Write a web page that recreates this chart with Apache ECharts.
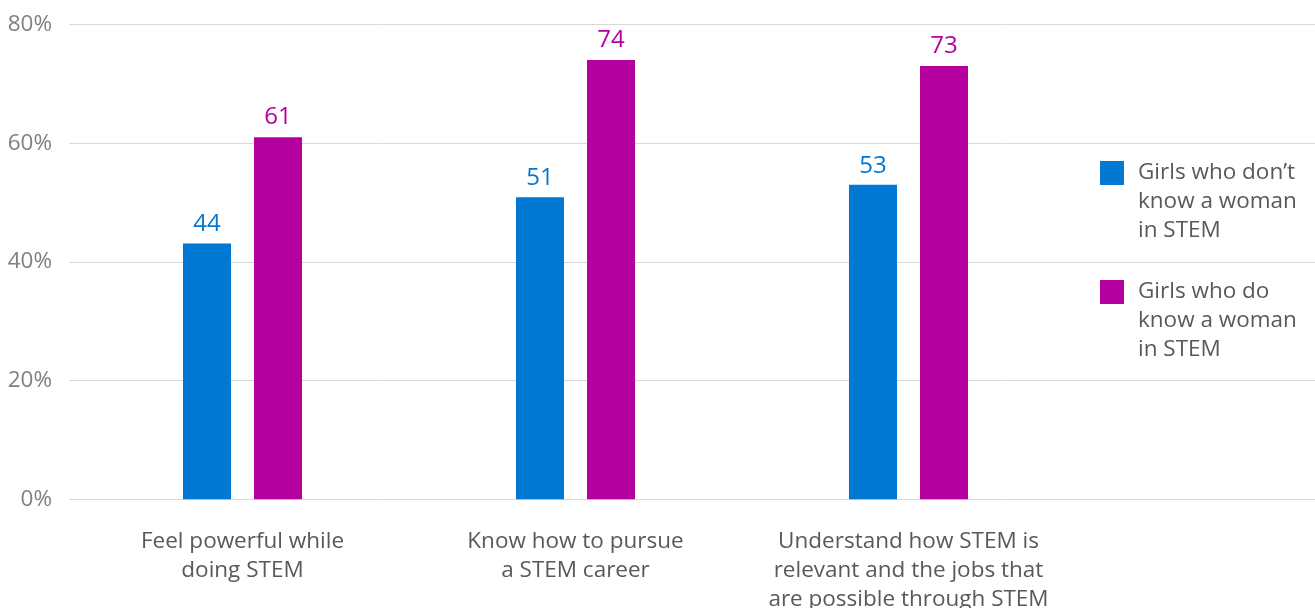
<!DOCTYPE html>
<html><head><meta charset="utf-8">
<script src="https://cdn.jsdelivr.net/npm/echarts@6/dist/echarts.min.js"></script>
<style>html,body{margin:0;padding:0;background:#fff}#c{width:1315px;height:608px}</style>
</head><body><div id="c"></div>
<script>
const categories = ['Feel powerful while\ndoing STEM', 'Know how to pursue\na STEM career', 'Understand how STEM is\nrelevant and the jobs that\nare possible through STEM'];
const seriesNames = ['Girls who don\u2019t\nknow a woman\nin STEM', 'Girls who do\nknow a woman\nin STEM'];
const dontKnow = [43.1, 50.9, 53];
const doKnow = [61, 74, 73];
const dontKnowLabels = ['44', '51', '53'];
const doKnowLabels = ['61', '74', '73'];
const yTicks = [0, 20, 40, 60, 80];

const FONT = '"Open Sans", "Noto Sans", sans-serif';
const chart = echarts.init(document.getElementById('c'));
const legendText = {fontFamily: FONT, fontSize: 22.5, color: '#595959', lineHeight: 29, padding: [0, 0, 0, 9]};
chart.setOption({
  animation: false,
  grid: [
    {left: 69, right: 0, top: 24.5, bottom: 108.7, outerBoundsMode: 'none', containLabel: false},
    {left: 76, right: 240, top: 24.5, bottom: 108.7, outerBoundsMode: 'none', containLabel: false}
  ],
  xAxis: [
    {type: 'value', gridIndex: 0, show: false},
    {type: 'category', gridIndex: 1, data: categories,
     axisLine: {show: false}, axisTick: {show: false},
     axisLabel: {fontFamily: FONT, fontSize: 22.5, color: '#595959', lineHeight: 29, margin: 28, interval: 0}}
  ],
  yAxis: [
    {type: 'value', gridIndex: 0, min: yTicks[0], max: yTicks[yTicks.length - 1], interval: 20,
     axisLine: {show: false}, axisTick: {show: false},
     axisLabel: {formatter: '{value}%', fontFamily: FONT, fontSize: 22.5, color: '#808080', margin: 17},
     splitLine: {lineStyle: {color: '#d9d9d9', width: 1}}},
    {type: 'value', gridIndex: 1, min: 0, max: 80, show: false, splitLine: {show: false}}
  ],
  legend: [
    {data: [seriesNames[0]], orient: 'vertical', left: 1100, top: 100.5, padding: 0, itemWidth: 24, itemHeight: 24,
     icon: 'rect', textStyle: legendText, formatter: n => '\n\n' + n},
    {data: [seriesNames[1]], orient: 'vertical', left: 1100, top: 219.5, padding: 0, itemWidth: 24, itemHeight: 24,
     icon: 'rect', textStyle: legendText, formatter: n => '\n\n' + n}
  ],
  series: [
    {name: seriesNames[0], type: 'bar', xAxisIndex: 1, yAxisIndex: 1, data: dontKnow,
     barWidth: 48, barGap: '48%', itemStyle: {color: '#0078D4'},
     label: {show: true, position: 'top', distance: 7, fontFamily: FONT, fontSize: 24, color: '#0078D4',
             formatter: p => dontKnowLabels[p.dataIndex]}},
    {name: seriesNames[1], type: 'bar', xAxisIndex: 1, yAxisIndex: 1, data: doKnow,
     barWidth: 48, barGap: '48%', itemStyle: {color: '#B4009E'},
     label: {show: true, position: 'top', distance: 8, fontFamily: FONT, fontSize: 24, color: '#B4009E',
             formatter: p => doKnowLabels[p.dataIndex]}}
  ]
});
</script></body></html>
